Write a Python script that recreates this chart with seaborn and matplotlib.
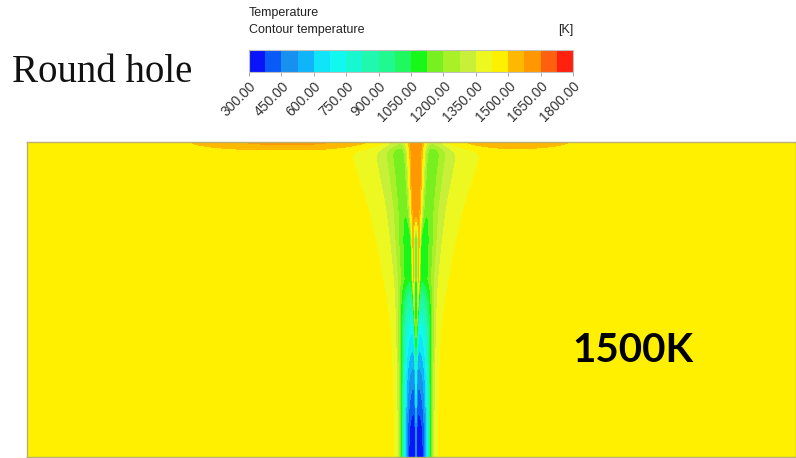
import numpy as np
import matplotlib
matplotlib.use("Agg")
import matplotlib.pyplot as plt
import seaborn as sns
from matplotlib.colors import ListedColormap, Normalize
import matplotlib.cm as cm

# ---------------- data ----------------
# colour scale (20 contour bands of 75 K from 300 K to 1800 K)
band_colors = ['#0a14f8', '#0a5af8', '#1890f0', '#10b4f8', '#10e4f8',
               '#10f8f0', '#18f8d0', '#20f8b0', '#20f890', '#20f860',
               '#18f818', '#78f020', '#a8f028', '#c8f038', '#ecf820',
               '#fff000', '#ffb800', '#ff9800', '#ff6010', '#ff2010']
t_min, t_max = 300.0, 1800.0
tick_values = [300, 450, 600, 750, 900, 1050, 1200, 1350, 1500, 1650, 1800]

# domain (mm) and hole position
domain_width = 76.9
domain_height = 31.5
hole_x = 38.9
T_ambient = 1470.0

# plume description at stations measured down from the top wall (mm)
depth_stations = [0.0, 0.8, 3.3, 6.5, 9.8, 13.8, 15.8, 18.8, 23.8, 28.8, 31.5]
halo_amp   = [-200, -220, -220, -220, -220, -220, -220, -220, -220, -220, -220]
halo_width = [6.0, 5.2, 4.6, 3.8, 3.2, 2.6, 2.3, 2.0, 1.8, 1.7, 1.7]
cold_amp   = [-140, -150, -140, -150, -190, -200, -370, -570, -780, -930, -960]
cold_width = [3.0, 2.8, 2.5, 2.1, 1.9, 1.7, 1.6, 1.55, 1.45, 1.4, 1.4]
hot_amp    = [350, 475, 500, 500, 500, 470, 470, 470, 330, 200, 190]
hot_width  = [0.6, 0.6, 0.5, 0.45, 0.18, 0.15, 0.14, 0.13, 0.12, 0.12, 0.12]
hot_offset = [0.45, 0.45, 0.4, 0.3, 0.3, 0.25, 0.2, 0.1, 0.0, 0.0, 0.0]

# hot layer along the top wall
wall_amp = 130.0
wall_center = 35.3
wall_half_length = 16.3
wall_thickness = 0.7

# ---------------- field ----------------
nx, ny = 769, 315
x = (np.arange(nx) + 0.5) * domain_width / nx
y = (np.arange(ny) + 0.5) * domain_height / ny
X, Y = np.meshgrid(x, y)
dx = X - hole_x


def prof(vals):
    return np.interp(y, depth_stations, vals)[:, None]


hw, ho = prof(hot_width), prof(hot_offset)
hot = (np.exp(-((dx - ho) / hw) ** 2) + np.exp(-((dx + ho) / hw) ** 2)) \
    / (1 + np.exp(-(2 * ho / hw) ** 2))

T = (T_ambient
     + prof(halo_amp) * np.exp(-(dx / prof(halo_width)) ** 2)
     + prof(cold_amp) * np.exp(-(dx / prof(cold_width)) ** 4)
     + prof(hot_amp) * hot
     + wall_amp * np.exp(-(Y / wall_thickness) ** 2)
     / (1 + ((X - wall_center) / wall_half_length) ** 8))
T = np.clip(T, t_min, t_max - 1)

cmap = ListedColormap(band_colors)

# ---------------- figure ----------------
W, H = 796, 458
fig = plt.figure(figsize=(W / 100, H / 100), dpi=100)
fig.patch.set_facecolor('white')

ax = fig.add_axes([27 / W, 1 - 457 / H, (796 - 27) / W, (457 - 142) / H])
sns.heatmap(T, cmap=cmap, vmin=t_min, vmax=t_max, cbar=False,
            xticklabels=False, yticklabels=False, ax=ax, rasterized=True)
for s in ax.spines.values():
    s.set_visible(True)
    s.set_color('#b8b070')
    s.set_linewidth(1.0)
ax.tick_params(left=False, bottom=False)

# colour bar
cax = fig.add_axes([249 / W, 1 - 72 / H, (573 - 249) / W, 22 / H])
sm = cm.ScalarMappable(norm=Normalize(t_min, t_max), cmap=cmap)
cb = fig.colorbar(sm, cax=cax, orientation='horizontal', ticks=tick_values)
cb.outline.set_edgecolor('#c0c0c0')
cb.outline.set_linewidth(0.8)
cax.set_xticklabels([f"{v:.2f}" for v in tick_values])
cax.tick_params(axis='x', length=3, width=0.6, color='#999999', labelsize=10,
                pad=2)
for lab in cax.get_xticklabels():
    lab.set_rotation(45)
    lab.set_ha('right')
    lab.set_rotation_mode('anchor')
    lab.set_fontfamily('Liberation Sans')
    lab.set_color('#333333')

fig.text(249 / W, 1 - 13 / H, 'Temperature', fontsize=9,
         family='Liberation Sans', va='center', ha='left', color='#222222')
fig.text(249 / W, 1 - 30 / H, 'Contour temperature', fontsize=9,
         family='Liberation Sans', va='center', ha='left', color='#222222')
fig.text(573 / W, 1 - 30 / H, '[K]', fontsize=9,
         family='Liberation Sans', va='center', ha='right', color='#222222')

fig.text(12 / W, 1 - 72 / H, 'Round hole', fontsize=28,
         family='Liberation Serif', va='center', ha='left', color='#111111')

ax.text(633 - 27, 350 - 142, '1500K', fontsize=29, fontweight='bold',
        family='Lato', va='center', ha='center', color='black')

fig.savefig('out.png', dpi=100, facecolor='white')
